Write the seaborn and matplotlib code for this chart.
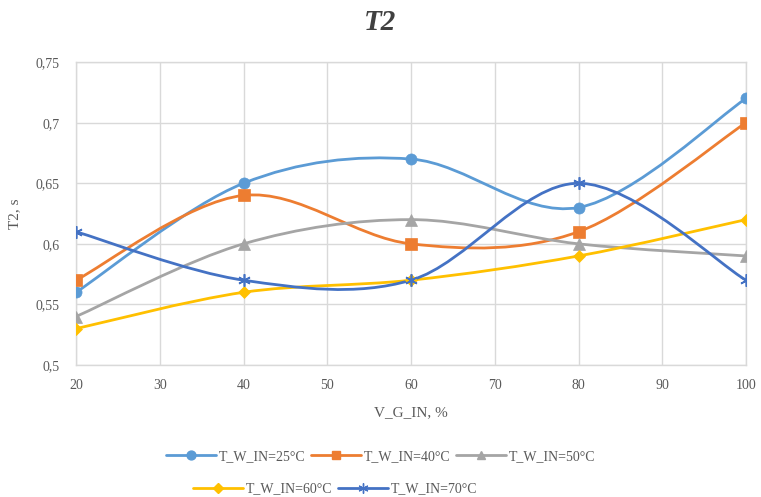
import numpy as np
import matplotlib
matplotlib.use("Agg")
import matplotlib.pyplot as plt
from matplotlib.path import Path
from matplotlib.patches import PathPatch
from matplotlib.lines import Line2D
import seaborn as sns

v_g_in = [20, 40, 60, 80, 100]
t25 = [0.56, 0.65, 0.67, 0.63, 0.72]
t40 = [0.57, 0.64, 0.60, 0.61, 0.70]
t50 = [0.54, 0.60, 0.62, 0.60, 0.59]
t60 = [0.53, 0.56, 0.57, 0.59, 0.62]
t70 = [0.61, 0.57, 0.57, 0.65, 0.57]
labels = ["T_W_IN=25°C", "T_W_IN=40°C", "T_W_IN=50°C", "T_W_IN=60°C", "T_W_IN=70°C"]
yticks = [0.5, 0.55, 0.6, 0.65, 0.7, 0.75]
ytick_labels = ["0,5", "0,55", "0,6", "0,65", "0,7", "0,75"]
xticks = [20, 30, 40, 50, 60, 70, 80, 90, 100]

colors = ["#5B9BD5", "#ED7D31", "#A5A5A5", "#FFC000", "#4472C4"]
markers = ["o", "s", "^", "D", (6, 2, 0)]
msizes = [8, 8, 8, 6, 9]

sns.set_style("whitegrid")
plt.rcParams["font.family"] = ["Liberation Serif", "DejaVu Serif"]

fig = plt.figure(figsize=(7.61, 4.97), dpi=100)
ax = fig.add_axes([0.0999, 0.2656, 0.8804, 0.6094])


def smooth_path(xs, ys):
    pts = np.column_stack([xs, ys]).astype(float)
    n = len(pts)
    verts = [tuple(pts[0])]
    codes = [Path.MOVETO]
    for i in range(n - 1):
        p0 = pts[i - 1] if i > 0 else pts[i]
        p1 = pts[i]
        p2 = pts[i + 1]
        p3 = pts[i + 2] if i + 2 < n else pts[i + 1]
        c1 = p1 + (p2 - p0) / 6.0
        c2 = p2 - (p3 - p1) / 6.0
        verts += [tuple(c1), tuple(c2), tuple(p2)]
        codes += [Path.CURVE4] * 3
    return Path(verts, codes)


series = [t25, t40, t50, t60, t70]
handles = []
for ys, lab, c, m, ms in zip(series, labels, colors, markers, msizes):
    patch = PathPatch(smooth_path(v_g_in, ys), facecolor="none", edgecolor=c, lw=2.0, zorder=3)
    ax.add_patch(patch)
    sns.lineplot(x=v_g_in, y=ys, ax=ax, color=c, marker=m, markersize=ms, linestyle="none",
                 markeredgecolor=c, markeredgewidth=1.2 if m == (6, 2, 0) else 0.5, zorder=4)
    handles.append(Line2D([], [], color=c, lw=2.0, marker=m, markersize=ms * 0.8,
                          markeredgecolor=c, label=lab))

ax.set_xlim(20, 100)
ax.set_ylim(0.5, 0.75)
ax.set_xticks(xticks)
ax.set_yticks(yticks)
ax.set_yticklabels(ytick_labels)
ax.grid(True, color="#D9D9D9", lw=1.0)
for s in ax.spines.values():
    s.set_visible(True)
    s.set_color("#D9D9D9")
    s.set_linewidth(1.0)
ax.tick_params(axis="y", colors="#595959", labelsize=10, length=0, pad=12)
ax.tick_params(axis="x", colors="#595959", labelsize=10, length=0, pad=10)
ax.set_xlabel("V_G_IN, %", fontsize=11, color="#595959", labelpad=10)
ax.set_ylabel("T2, s", fontsize=11, color="#595959", labelpad=10)
fig.text(0.5, 0.955, "T2", ha="center", va="center", fontsize=21,
         fontweight="bold", fontstyle="italic", color="#404040")

leg1 = fig.legend(handles=handles[:3], loc="center", bbox_to_anchor=(0.50, 0.082), ncol=3,
                  frameon=False, fontsize=10, handlelength=3.6, columnspacing=0.4, handletextpad=0.2)
for t in leg1.get_texts():
    t.set_color("#595959")
leg2 = fig.legend(handles=handles[3:], loc="center", bbox_to_anchor=(0.44, 0.016), ncol=2,
                  frameon=False, fontsize=10, handlelength=3.6, columnspacing=0.4, handletextpad=0.2)
for t in leg2.get_texts():
    t.set_color("#595959")

fig.savefig("out.png", dpi=100)
